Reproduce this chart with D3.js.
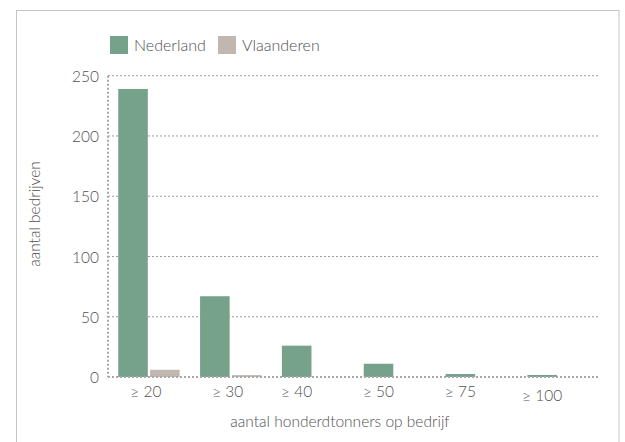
<!DOCTYPE html>
<html>
<head>
<meta charset="utf-8">
<script src="https://cdn.jsdelivr.net/npm/d3@7"></script>
<style>
  html, body { margin: 0; padding: 0; background: #fff; }
  svg { display: block; font-family: Lato, "Open Sans", sans-serif; font-weight: 300; }
</style>
</head>
<body>
<svg id="chart" width="625" height="442"></svg>
<script>
const categories = ["≥ 20", "≥ 30", "≥ 40", "≥ 50", "≥ 75", "≥ 100"];
const seriesNames = ["Nederland", "Vlaanderen"];
const nederland = [239, 67, 26, 11, 2.5, 1.7];
const vlaanderen = [6, 1.6, 0, 0, 0, 0];
const yTicks = [0, 50, 100, 150, 200, 250];
const xTitle = "aantal honderdtonners op bedrijf";
const yTitle = "aantal bedrijven";

const colors = { Nederland: "#76a18a", Vlaanderen: "#c1b7b1" };
const values = { Nederland: nederland, Vlaanderen: vlaanderen };

const svg = d3.select("#chart");
const W = 625, H = 442;
const plot = { left: 108, right: 599, top: 75.7, bottom: 377 };
const textColor = "#505050";

// frame
svg.append("rect")
  .attr("x", 16.5).attr("y", 10.5)
  .attr("width", 619 - 16.5).attr("height", H)
  .attr("fill", "none").attr("stroke", "#c4c4c4").attr("stroke-width", 1);

const x0 = d3.scaleBand().domain(categories)
  .range([plot.left, plot.right]).paddingInner(0.25).paddingOuter(0.125);
const x1 = d3.scaleBand().domain(seriesNames)
  .range([0, x0.bandwidth()]).paddingInner(0.07).paddingOuter(0);
const y = d3.scaleLinear().domain([0, 250]).range([plot.bottom, plot.top]);

// gridlines
svg.append("g").selectAll("line")
  .data(yTicks.filter(d => d > 0))
  .join("line")
  .attr("x1", plot.left).attr("x2", plot.right)
  .attr("y1", d => y(d)).attr("y2", d => y(d))
  .attr("stroke", "#9a9a9a").attr("stroke-width", 1)
  .attr("stroke-dasharray", "2,2");

// bars
const rows = categories.map((c, i) => ({ c, i }));
const groups = svg.append("g").selectAll("g")
  .data(rows).join("g")
  .attr("transform", d => `translate(${x0(d.c)},0)`);
groups.selectAll("rect")
  .data(d => seriesNames.map(s => ({ s, v: values[s][d.i] })).filter(e => e.v > 0))
  .join("rect")
  .attr("x", e => x1(e.s))
  .attr("width", x1.bandwidth())
  .attr("y", e => y(e.v))
  .attr("height", e => y(0) - y(e.v))
  .attr("fill", e => colors[e.s]);

// axes lines (dotted)
svg.append("line")
  .attr("x1", plot.left).attr("x2", plot.right)
  .attr("y1", y(0)).attr("y2", y(0))
  .attr("stroke", "#a8a8a8").attr("stroke-width", 2)
  .attr("stroke-dasharray", "2,2");
svg.append("line")
  .attr("x1", plot.left).attr("x2", plot.left)
  .attr("y1", y(250)).attr("y2", y(0))
  .attr("stroke", "#a8a8a8").attr("stroke-width", 2)
  .attr("stroke-dasharray", "2,2");

// y axis labels
const yAxis = d3.axisLeft(y).tickValues(yTicks).tickSize(0).tickPadding(9);
const gy = svg.append("g").attr("transform", `translate(${plot.left},0)`).call(yAxis);
gy.select(".domain").remove();
gy.selectAll("text")
  .attr("font-family", "Lato, sans-serif").attr("font-weight", 300)
  .attr("font-size", 15.5).attr("fill", textColor).attr("dy", "0.36em");

// x labels: centred on the visible bars of each group
const xLab = svg.append("g");
rows.forEach(d => {
  const vis = seriesNames.filter(s => values[s][d.i] > 0);
  const a = x0(d.c) + x1(vis[0]);
  const b = x0(d.c) + x1(vis[vis.length - 1]) + x1.bandwidth();
  xLab.append("text")
    .attr("x", (a + b) / 2 - (vis.length > 1 ? 3 : 0))
    .attr("y", d.i === categories.length - 1 ? 400.5 : 396.5)
    .attr("text-anchor", "middle")
    .attr("font-size", 15.5).attr("fill", textColor)
    .text(d.c);
});

// axis titles
svg.append("text")
  .attr("x", 340).attr("y", 426.5)
  .attr("text-anchor", "middle")
  .attr("font-size", 15.5).attr("fill", textColor)
  .text(xTitle);
svg.append("text")
  .attr("transform", "translate(40,214) rotate(-90)")
  .attr("text-anchor", "middle")
  .attr("font-size", 15.5).attr("fill", textColor)
  .text(yTitle);

// legend
const legend = svg.append("g");
const legendX = [110, 218];
seriesNames.forEach((s, i) => {
  legend.append("rect")
    .attr("x", legendX[i]).attr("y", 36)
    .attr("width", 18).attr("height", 18)
    .attr("fill", colors[s]);
  legend.append("text")
    .attr("x", legendX[i] + 24).attr("y", 50.5)
    .attr("font-size", 16).attr("fill", textColor)
    .text(s);
});
</script>
</body>
</html>
